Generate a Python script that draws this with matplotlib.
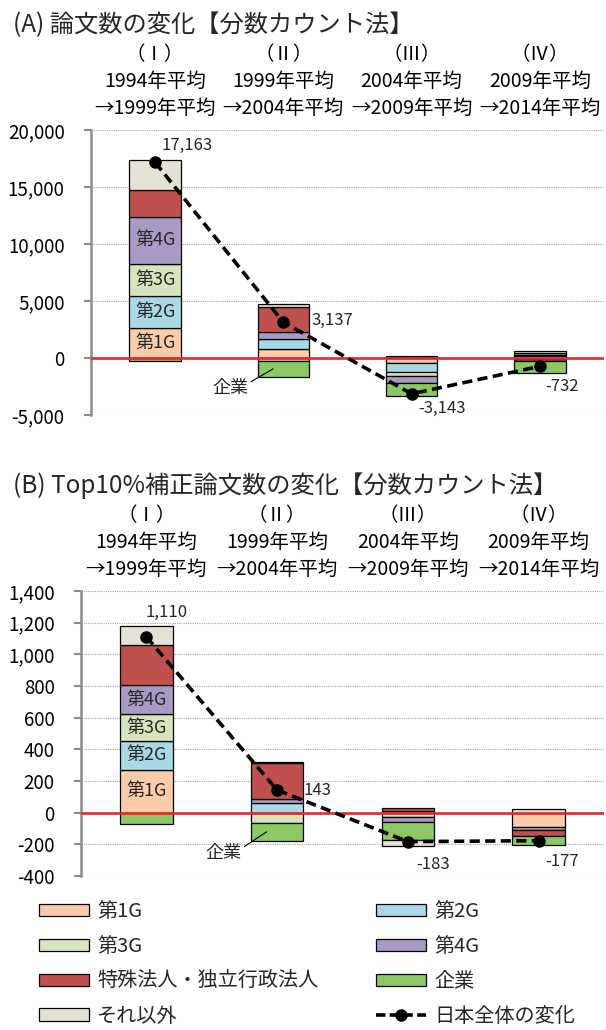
import numpy as np
import matplotlib
matplotlib.use("Agg")
import matplotlib.pyplot as plt
from matplotlib.patches import Patch
from matplotlib.lines import Line2D
from matplotlib.ticker import FuncFormatter

plt.rcParams["font.family"] = ["Noto Sans CJK JP", "DejaVu Sans"]
plt.rcParams["text.color"] = "#262626"

# ---- data ----
periods = [
    "（Ⅰ）\n1994年平均\n→1999年平均",
    "（Ⅱ）\n1999年平均\n→2004年平均",
    "（Ⅲ）\n2004年平均\n→2009年平均",
    "（Ⅳ）\n2009年平均\n→2014年平均",
]
series_names = ["第1G", "第2G", "第3G", "第4G", "特殊法人・独立行政法人", "企業", "それ以外"]
total_name = "日本全体の変化"

# (A) 論文数の変化
a_1g = [2600, 830, -470, -60]
a_2g = [2870, 830, -760, 200]
a_3g = [2790, -280, -350, 100]
a_4g = [4100, 600, -600, 120]
a_tokushu = [2400, 2250, 80, -180]
a_kigyo = [-247, -1343, -1163, -1082]
a_other = [2650, 250, 120, 170]
a_total = [17163, 3137, -3143, -732]

# (B) Top10%補正論文数の変化
b_1g = [270, 0, 12, -88]
b_2g = [183, 59, 0, 0]
b_3g = [168, -63, -30, 0]
b_4g = [185, 25, -32, -20]
b_tokushu = [255, 230, 15, -42]
b_kigyo = [-71, -116, -110, -52]
b_other = [120, 8, -38, 25]
b_total = [1110, 143, -183, -177]

colors = ["#FBCCAA", "#A9D9E4", "#D7E4BD", "#A89AC4", "#C0504D", "#8CC863", "#E4E2D6"]


def draw_panel(ax, series, totals, yticks, label_offsets, kigyo_offset):
    x = np.arange(len(periods))
    pos = np.zeros(len(x))
    neg = np.zeros(len(x))
    seg_mid = {}
    for name, vals, c in zip(series_names, series, colors):
        v = np.asarray(vals, dtype=float)
        bottom = np.where(v >= 0, pos, neg)
        nz = v != 0
        ax.bar(x[nz], v[nz], 0.4, bottom=bottom[nz], color=c,
               edgecolor="black", linewidth=0.9, zorder=2)
        seg_mid[name] = bottom + v / 2
        pos += np.clip(v, 0, None)
        neg += np.clip(v, None, 0)

    # generation labels inside the first bar
    for name in series_names[:4]:
        ax.text(0, seg_mid[name][0], name, ha="center", va="center",
                fontsize=13, zorder=5)

    ax.axhline(0, color="#E8262B", lw=1.9, zorder=3)
    ax.plot(x, totals, color="black", lw=2.6, dashes=(2.8, 1.5),
            marker="o", markersize=8, zorder=4)

    for xi, t, (dx, dy, va) in zip(x, totals, label_offsets):
        ax.annotate(f"{t:,}", (xi, t), xytext=(dx, dy), textcoords="offset pixels",
                    ha="left", va=va, fontsize=12, zorder=6)

    ax.annotate("企業", (1 - 0.08, seg_mid["企業"][1]), xytext=kigyo_offset,
                textcoords="offset pixels", ha="center", va="center", fontsize=13,
                arrowprops=dict(arrowstyle="-", color="black", lw=0.8,
                                relpos=(1.0, 0.75), shrinkA=0, shrinkB=0))

    ax.set_xlim(-0.5, 3.5)
    ax.set_ylim(yticks[0], yticks[-1])
    ax.set_yticks(yticks)
    ax.yaxis.set_major_formatter(FuncFormatter(lambda v, p: f"{int(v):,}"))
    ax.yaxis.grid(True, linestyle=(0, (1, 1)), color="#A6A6A6", lw=0.8, zorder=0)
    ax.set_axisbelow(True)
    ax.set_xticks(x)
    ax.set_xticklabels(periods, linespacing=1.36, fontsize=14)
    ax.tick_params(axis="x", top=True, labeltop=True, bottom=False,
                   labelbottom=False, length=0, pad=8)
    ax.tick_params(axis="y", length=5, width=1.5, color="#8C8C8C",
                   labelsize=13.5, pad=14)
    for side in ["top", "right", "bottom"]:
        ax.spines[side].set_visible(False)
    ax.spines["left"].set_color("#8C8C8C")
    ax.spines["left"].set_linewidth(1.8)


fig = plt.figure(figsize=(6.06, 10.30), dpi=100)

ax_a = fig.add_axes([91 / 606, 1 - 415 / 1030, 513 / 606, 285 / 1030])
draw_panel(ax_a,
           [a_1g, a_2g, a_3g, a_4g, a_tokushu, a_kigyo, a_other], a_total,
           [-5000, 0, 5000, 10000, 15000, 20000],
           [(6, 8, "bottom"), (28, 2, "center"), (7, -6, "top"), (5, -12, "top")],
           (-43, -19))

ax_b = fig.add_axes([81 / 606, 1 - 876 / 1030, 523 / 606, 285 / 1030])
draw_panel(ax_b,
           [b_1g, b_2g, b_3g, b_4g, b_tokushu, b_kigyo, b_other], b_total,
           [-400, -200, 0, 200, 400, 600, 800, 1000, 1200, 1400],
           [(-1, 16, "bottom"), (26, 0, "center"), (8, -14, "top"), (7, -12, "top")],
           (-43, -21))

fig.text(13 / 606, 1 - 25 / 1030, "(A) 論文数の変化【分数カウント法】",
         fontsize=17.5, va="center", ha="left")
fig.text(13 / 606, 1 - 486 / 1030, "(B) Top10%補正論文数の変化【分数カウント法】",
         fontsize=17.5, va="center", ha="left")

# legend: two columns
patches = [Patch(facecolor=c, edgecolor="black", lw=0.9, label=n)
           for n, c in zip(series_names, colors)]
line_handle = Line2D([0], [0], color="black", lw=2.6, dashes=(2.6, 1.2),
                     marker="o", markersize=8, label=total_name)
left_handles = [patches[0], patches[2], patches[4], patches[6]]
right_handles = [patches[1], patches[3], patches[5], line_handle]
legend_kw = dict(loc="upper left", frameon=False, fontsize=14.5, handlelength=2.5,
                 handleheight=0.55, handletextpad=0.4, labelspacing=0.69,
                 borderaxespad=0, borderpad=0)
fig.legend(handles=left_handles, bbox_to_anchor=(39 / 606, 1 - 901 / 1030), **legend_kw)
fig.legend(handles=right_handles, bbox_to_anchor=(376 / 606, 1 - 901 / 1030), **legend_kw)

fig.savefig("out.png", dpi=100)
